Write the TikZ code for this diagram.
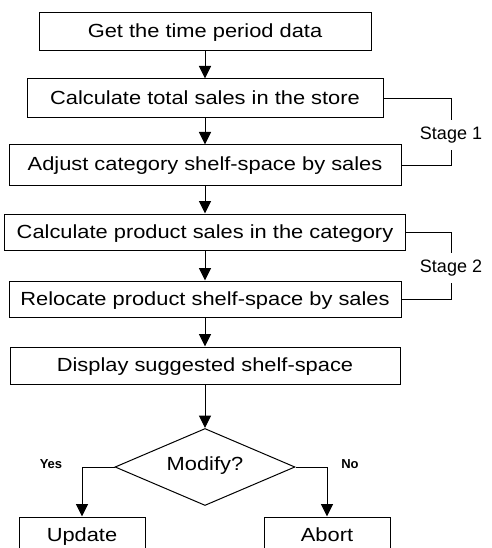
\documentclass[tikz,border=0pt]{standalone}
\usepackage{fontspec}
\setmainfont{Liberation Sans}
\newfontfamily\boxfont[FakeStretch=1.15]{Liberation Sans}
\usetikzlibrary{arrows.meta,shapes.geometric,positioning}

\begin{document}
\begin{tikzpicture}[x=1pt,y=-1pt]

        \tikzstyle{every node}=[inner sep=0pt]
        \tikzstyle{box}=[draw,line width=1pt,text height=15pt,text depth=3pt,font=\boxfont\fontsize{19}{22}\selectfont]
        \tikzstyle{choice}=[draw,line width=1pt,diamond,aspect=2.34,minimum width=180pt,minimum height=77pt,text height=14pt,text depth=8pt,font=\boxfont\fontsize{19}{22}\selectfont]
        \tikzstyle{stage}=[inner ysep=7pt,font=\fontsize{18}{21}\selectfont]
        \tikzstyle{answer}=[font=\bfseries\fontsize{13}{15}\selectfont]
        \tikzstyle{flow}=[-{Triangle[length=12.5pt,width=12pt]},line width=1pt]
        \tikzstyle{bracket}=[line width=0.7pt]

        \useasboundingbox (0,0) rectangle (491,548);
        \clip (0,0) rectangle (491,548);

        \node[box,minimum width=332pt,minimum height=38pt] (G) at (205,32) {Get the time period data};
        \node[box,minimum width=356pt,minimum height=39pt] (C) at (205,98.5) {Calculate total sales in the store};
        \node[box,minimum width=392pt,minimum height=40pt] (A) at (205,165) {Adjust category shelf-space by sales};
        \node[box,minimum width=401pt,minimum height=36pt] (P) at (205,232) {Calculate product sales in the category};
        \node[box,minimum width=392pt,minimum height=36pt] (R) at (205,299) {Relocate product shelf-space by sales};
        \node[box,minimum width=390pt,minimum height=37pt] (D) at (205,365.5) {Display suggested shelf-space};
        \node[choice] (M) at (205,467) {Modify?};
        \node[box,minimum width=126pt,minimum height=36pt] (U) at (82,535) {Update};
        \node[box,minimum width=126pt,minimum height=36pt] (B) at (327,535) {Abort};

        \node[stage] (S1) at (451,135) {Stage 1};
        \node[stage] (S2) at (451,268) {Stage 2};
        \node[answer] (Y) at (51,464) {Yes};
        \node[answer] (N) at (350,464) {No};

        \draw[flow] (G) -- (C);
        \draw[flow] (C) -- (A);
        \draw[flow] (A) -- (P);
        \draw[flow] (P) -- (R);
        \draw[flow] (R) -- (D);
        \draw[flow] (D) -- (M);
        \draw[flow] (M.west) -| (U.north);
        \draw[flow] (M.east) -| (B.north);

        \draw[bracket] (C.east) -| (S1.north);
        \draw[bracket] (S1.south) |- (A.east);
        \draw[bracket] (P.east) -| (S2.north);
        \draw[bracket] (S2.south) |- (R.east);

\end{tikzpicture}
\end{document}
